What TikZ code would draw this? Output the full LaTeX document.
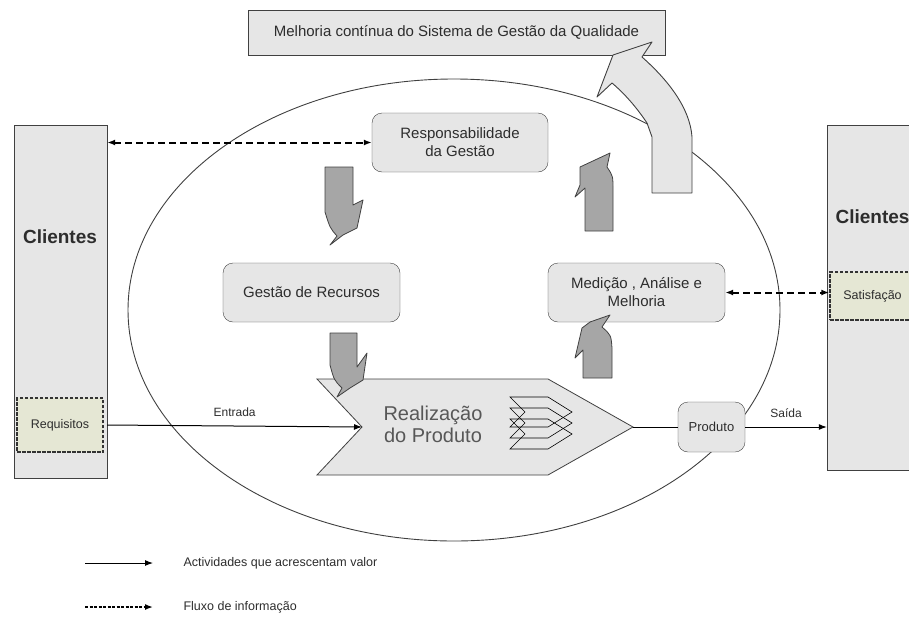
\documentclass[tikz,border=0pt]{standalone}
\usepackage{fontspec}
\setmainfont{Liberation Sans}
\usepackage{xcolor}
\usepackage{tikz}
\usetikzlibrary{arrows.meta}

\definecolor{boxgray}{RGB}{230,230,230}
\definecolor{arrowgray}{RGB}{166,166,166}
\definecolor{linegray}{RGB}{64,64,64}
\definecolor{textgray}{RGB}{45,45,45}
\definecolor{tagfill}{RGB}{229,231,212}

\begin{document}
\begin{tikzpicture}[x=1pt,y=-1pt]
			\tikzstyle{caixa} = [draw=linegray, fill=boxgray, rounded corners=10pt, align=center, inner sep=0pt, text=textgray, font=\fontsize{15}{18}\selectfont]
			\tikzstyle{cliente} = [draw=linegray, fill=boxgray, minimum width=93pt, minimum height=353pt]
			\tikzstyle{etiqueta} = [draw=black!80, fill=tagfill, dash pattern=on 3.5pt off 1.5pt, line width=1.5pt, inner sep=0pt, text=textgray, font=\fontsize{12.5}{14}\selectfont]
			\tikzstyle{seta} = [draw=linegray, fill=arrowgray, line width=0.8pt, line join=round]
			\tikzstyle{rotulo} = [text=textgray, font=\fontsize{12}{14}\selectfont]
			\tikzset{edge/.style = {-{Latex[length=8pt,width=6pt]}, line width=1pt}}
			\tikzset{info/.style = {{Latex[length=8pt,width=6pt]}-{Latex[length=8pt,width=6pt]}, line width=2pt, dash pattern=on 7pt off 4pt}}
			
			\clip (0,0) rectangle (909,616);
			
			\draw[linegray, line width=0.9pt] (454,310) ellipse [x radius=326pt, y radius=231pt];
			
			\node[caixa, rounded corners=0pt, minimum width=417pt, minimum height=45pt] (melhoria) at (456.5,32.5) {Melhoria contínua do Sistema de Gestão da Qualidade};
			\draw[draw=linegray, fill=boxgray, line width=0.9pt, line join=round] (652,193) -- (652,137) -- (647,123) .. controls (637,108) and (625,94) .. (612,83) -- (597,97) -- (613,55) -- (652,42) -- (642,57) .. controls (668,80) and (690,108) .. (692,137) -- (692,193) -- cycle;
			
			\node[cliente] (clientesE) at (60.5,301.5) {};
			\node[text=textgray, font=\bfseries\fontsize{19}{22}\selectfont] (nomeE) at (60,237) {Clientes};
			\node[cliente, minimum width=90pt, minimum height=345pt] (clientesD) at (872,297.5) {};
			\node[text=textgray, font=\bfseries\fontsize{19}{22}\selectfont, anchor=west] (nomeD) at (832,217) {Clientes};
			\node[etiqueta, minimum width=86pt, minimum height=54pt] (requisitos) at (60,425) {Requisitos};
			\node[etiqueta, minimum width=85pt, minimum height=48pt] (satisfacao) at (872.5,296) {Satisfação};
			
			\node[caixa, minimum width=176pt, minimum height=59pt] (resp) at (460,142.5) {Responsabilidade\\da Gestão};
			\node[caixa, minimum width=177pt, minimum height=59pt] (recursos) at (311.5,292.5) {Gestão de Recursos};
			\node[caixa, minimum width=177pt, minimum height=59pt] (medicao) at (636.5,292.5) {Medição , Análise e\\Melhoria};
			\node[caixa, minimum width=67pt, minimum height=50pt, font=\fontsize{13}{15}\selectfont] (produto) at (711.5,427) {Produto};
			
			\coordinate (entalhe) at (362,427);
			\coordinate (ponta) at (633,427);
			\draw[draw=linegray, fill=boxgray, line width=0.8pt] (317,379) -- (548,379) -- (ponta) -- (548,475) -- (317,475) -- (entalhe) -- cycle;
			\node[align=center, text=textgray!80, font=\fontsize{20}{22}\selectfont] (realizacao) at (433,424) {Realização\\do Produto};
			\foreach \dy in {0,11,22}
				\draw[black, line width=0.6pt] (510,397+\dy) -- (548,397+\dy) -- (572,412+\dy) -- (548,427+\dy) -- (510,427+\dy) -- (525,412+\dy) -- cycle;
			
			\draw[seta] (325,167) -- (353,167) -- (353,205) -- (363,200) -- (357,228) -- (343,235) -- (330,245) -- (337,236) .. controls (330,228) .. (325,212) -- cycle;
			\draw[seta] (330,333) -- (357,333) -- (357,367) -- (367,353) -- (363,380) -- (350,388) -- (337,397) -- (342,388) .. controls (334,380) .. (330,365) -- cycle;
			\draw[seta] (583,378) -- (583,350) -- (575,358) -- (582,328) -- (590,322) -- (610,315) -- (602,327) .. controls (611,335) .. (612,348) -- (612,378) -- cycle;
			\draw[seta] (585,231) -- (585,188) -- (575,197) -- (580,185) -- (580,167) -- (595,160) -- (610,153) -- (607,167) .. controls (613,176) .. (613,190) -- (613,231) -- cycle;
			
			\draw[edge] (requisitos -| clientesE.east) -- (entalhe) node[rotulo, midway, above=6pt] {Entrada};
			\draw[line width=1pt] (ponta) -- (produto);
			\draw[edge] (produto) -- (produto -| clientesD.west) node[rotulo, midway, above=6pt] {Saída};
			\draw[info] (clientesE.east |- resp) -- (resp);
			\draw[info] (medicao) -- (medicao -| satisfacao.west);
			
			\coordinate (leg1a) at (85,563);
			\coordinate (leg1b) at (153,563);
			\coordinate (leg2a) at (85,607);
			\coordinate (leg2b) at (153,607);
			\draw[edge] (leg1a) -- (leg1b);
			\draw[edge, dash pattern=on 3pt off 1.5pt, line width=1.5pt] (leg2a) -- (leg2b);
			\node[rotulo, anchor=west, font=\fontsize{12.5}{14}\selectfont] (leg1) at (180,563) {Actividades que acrescentam valor};
			\node[rotulo, anchor=west, font=\fontsize{12.5}{14}\selectfont] (leg2) at (180,607) {Fluxo de informação};
			
			\end{tikzpicture}
\end{document}
